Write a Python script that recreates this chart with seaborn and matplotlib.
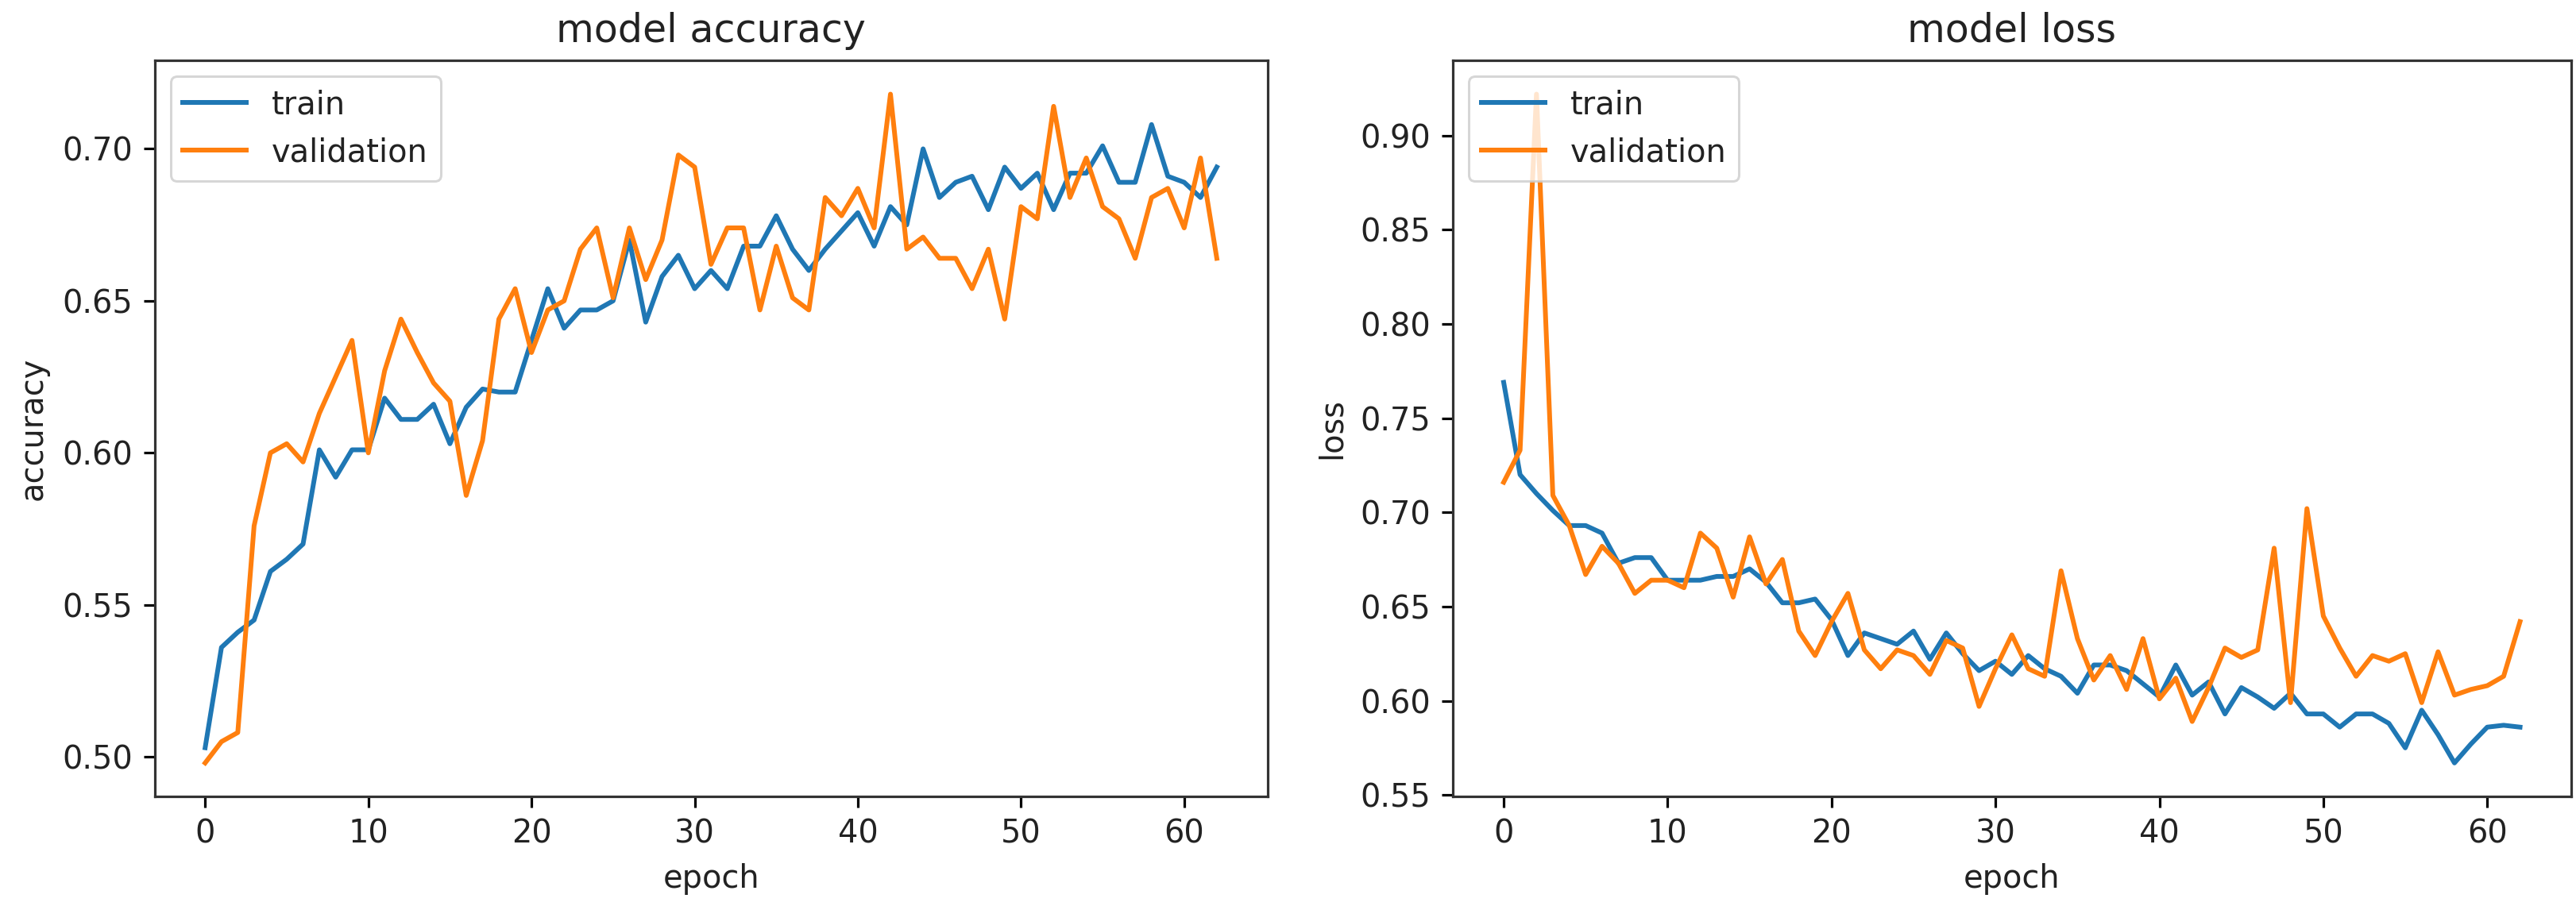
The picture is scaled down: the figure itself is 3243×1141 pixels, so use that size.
import numpy as np
import pandas as pd
import matplotlib
matplotlib.use("Agg")
import matplotlib.pyplot as plt
import seaborn as sns

# training history (63 epochs)
epochs = list(range(63))

train_acc = [
    0.503, 0.536, 0.541, 0.545, 0.561, 0.565, 0.570, 0.601, 0.592, 0.601,
    0.601, 0.618, 0.611, 0.611, 0.616, 0.603, 0.615, 0.621, 0.620, 0.620,
    0.637, 0.654, 0.641, 0.647, 0.647, 0.650, 0.670, 0.643, 0.658, 0.665,
    0.654, 0.660, 0.654, 0.668, 0.668, 0.678, 0.667, 0.660, 0.667, 0.673,
    0.679, 0.668, 0.681, 0.675, 0.700, 0.684, 0.689, 0.691, 0.680, 0.694,
    0.687, 0.692, 0.680, 0.692, 0.692, 0.701, 0.689, 0.689, 0.708, 0.691,
    0.689, 0.684, 0.694,
]
val_acc = [
    0.498, 0.505, 0.508, 0.576, 0.600, 0.603, 0.597, 0.613, 0.625, 0.637,
    0.600, 0.627, 0.644, 0.633, 0.623, 0.617, 0.586, 0.604, 0.644, 0.654,
    0.633, 0.647, 0.650, 0.667, 0.674, 0.651, 0.674, 0.657, 0.670, 0.698,
    0.694, 0.662, 0.674, 0.674, 0.647, 0.668, 0.651, 0.647, 0.684, 0.678,
    0.687, 0.674, 0.718, 0.667, 0.671, 0.664, 0.664, 0.654, 0.667, 0.644,
    0.681, 0.677, 0.714, 0.684, 0.697, 0.681, 0.677, 0.664, 0.684, 0.687,
    0.674, 0.697, 0.664,
]
train_loss = [
    0.769, 0.720, 0.710, 0.701, 0.693, 0.693, 0.689, 0.673, 0.676, 0.676,
    0.664, 0.664, 0.664, 0.666, 0.666, 0.670, 0.663, 0.652, 0.652, 0.654,
    0.643, 0.624, 0.636, 0.633, 0.630, 0.637, 0.622, 0.636, 0.625, 0.616,
    0.621, 0.614, 0.624, 0.617, 0.613, 0.604, 0.619, 0.619, 0.616, 0.609,
    0.602, 0.619, 0.603, 0.610, 0.593, 0.607, 0.602, 0.596, 0.604, 0.593,
    0.593, 0.586, 0.593, 0.593, 0.588, 0.575, 0.595, 0.582, 0.567, 0.577,
    0.586, 0.587, 0.586,
]
val_loss = [
    0.716, 0.733, 0.922, 0.709, 0.693, 0.667, 0.682, 0.673, 0.657, 0.664,
    0.664, 0.660, 0.689, 0.681, 0.655, 0.687, 0.662, 0.675, 0.637, 0.624,
    0.642, 0.657, 0.627, 0.617, 0.627, 0.624, 0.614, 0.632, 0.628, 0.597,
    0.617, 0.635, 0.617, 0.613, 0.669, 0.633, 0.611, 0.624, 0.606, 0.633,
    0.601, 0.612, 0.589, 0.607, 0.628, 0.623, 0.627, 0.681, 0.599, 0.702,
    0.645, 0.628, 0.613, 0.624, 0.621, 0.625, 0.599, 0.626, 0.603, 0.606,
    0.608, 0.613, 0.642,
]

series_labels = ["train", "validation"]
colors = ["#1f77b4", "#ff7f0e"]

# the reference is an upscaled default matplotlib figure: scale everything ~1.33x
s = 1.33
plt.rcParams.update({
    "font.size": 10 * s,
    "axes.titlesize": 12.3 * s,
    "axes.titlepad": 6 * s,
    "axes.labelsize": 10 * s,
    "axes.labelpad": 4 * s,
    "axes.linewidth": 0.8 * s,
    "axes.edgecolor": "#333333",
    "xtick.labelsize": 10 * s,
    "ytick.labelsize": 10 * s,
    "xtick.major.size": 3.5 * s,
    "ytick.major.size": 3.5 * s,
    "xtick.major.width": 0.8 * s,
    "ytick.major.width": 0.8 * s,
    "xtick.major.pad": 3.5 * s,
    "ytick.major.pad": 3.5 * s,
    "legend.fontsize": 10 * s,
    "text.color": "#222222",
    "axes.labelcolor": "#222222",
    "xtick.labelcolor": "#222222",
    "ytick.labelcolor": "#222222",
})

fig = plt.figure(figsize=(3243 / 216, 1141 / 216), dpi=216, facecolor="white")
ax_acc = fig.add_axes([0.060, 0.121, 0.432, 0.812])
ax_loss = fig.add_axes([0.564, 0.121, 0.434, 0.812])

panels = [
    (ax_acc, train_acc, val_acc, "model accuracy", "accuracy"),
    (ax_loss, train_loss, val_loss, "model loss", "loss"),
]

for ax, tr, va, title, ylabel in panels:
    for vals, lab, col in zip([tr, va], series_labels, colors):
        sns.lineplot(x=epochs, y=vals, ax=ax, label=lab, color=col, linewidth=1.5 * s)
    ax.set_title(title)
    ax.set_xlabel("epoch")
    ax.set_ylabel(ylabel)
    ax.set_xticks([0, 10, 20, 30, 40, 50, 60])
    ax.legend(loc="upper left")

ax_acc.set_yticks([0.50, 0.55, 0.60, 0.65, 0.70])
ax_loss.set_yticks([0.55, 0.60, 0.65, 0.70, 0.75, 0.80, 0.85, 0.90])

fig.savefig("out.png", dpi=216, facecolor="white")
